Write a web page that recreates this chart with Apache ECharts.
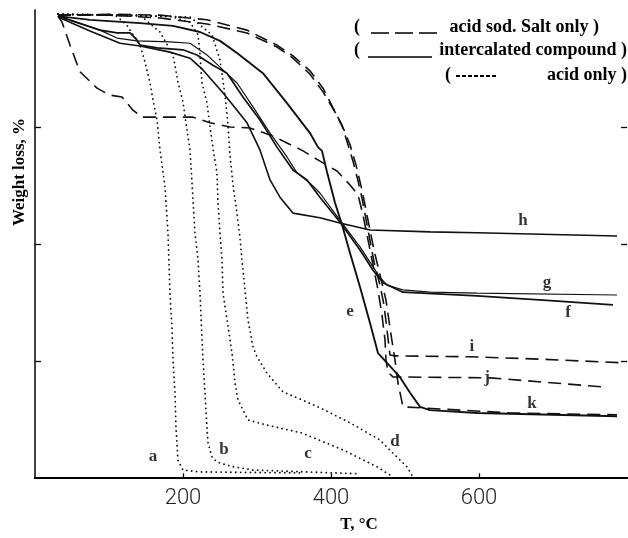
<!DOCTYPE html>
<html>
<head>
<meta charset="utf-8">
<script src="https://cdn.jsdelivr.net/npm/echarts@6/dist/echarts.min.js"></script>
<style>html,body{margin:0;padding:0;background:#fff;}#c{width:628px;height:538px;}</style>
</head>
<body>
<div id="c"></div>
<script>
// x: temperature (°C), y: weight (%)
const xTickVals = [200, 400, 600];
const yTickVals = [25, 50, 75];
// acid only (dotted) a-d
const aT = [31.1,108.1,123,141.9,148.6,155.4,159.5,164.9,168.9,175.7,179.7,182.4,185.1,186.5,189.2,190.5,193.2,200,223,358.1];
const aW = [99.1,98.9,97,92.5,88.9,84.4,80.8,76.5,70.1,62.2,52.4,39.5,32.3,25.2,18.2,10.9,3.8,1.7,1.3,1.1];
const bT = [31.1,141.9,168.9,186.5,193.2,200,205.4,209.5,212.2,216.2,220.3,223,227,229.7,232.4,233.8,239.2,245.9,267.6,294.6,439.2];
const bW = [99.1,98.9,95.3,90.4,84.6,80.3,74.4,70.1,63,52.4,46.6,39.5,25.2,18.2,10.9,7.5,4.5,3.4,2.4,1.7,0.9];
const cT = [31.1,182.4,209.5,220.3,223,225.7,232.4,236.5,240.5,245.9,247.3,250,252.7,254.1,259.5,266.2,270.3,274.3,287.8,313.5,360.8,416.2,462.2,483.8];
const cW = [99.1,98.7,97.4,94.7,90.4,84.4,80.1,75,70.5,65.2,58.8,52.4,46.6,39.5,33.8,26.7,20.3,16.7,12.4,11.3,9.6,6,2.4,0.2];
const dT = [31.1,209.5,239.2,250,256.8,260.8,263.5,267.6,273,277,279.7,283.8,287.8,294.6,300,313.5,335.1,360.8,385.1,425.7,466.2,483.8,502.7,510.8];
const dW = [99.1,98.5,94.7,89.3,81.8,75.4,69,62.6,56.6,51.3,46.6,40.2,33.8,28,25.9,22.4,18.4,16.7,15,11.8,8.1,5.3,2.4,0.2];
// intercalated compound (solid) e-h
const eT = [31.1,74.3,141.9,186.5,223,250,273,308,340.5,371.6,382.4,387.8,394.6,405.4,414.9,425.7,439.2,452.7,463.5,475.7,493,506.8,520.3,533.8,597.3,786.5];
const eW = [98.7,97.9,97.2,96.6,95.3,93.4,90.8,86.5,80.1,73.7,70.7,69.9,65.4,58.8,54.1,48.1,40.8,33.1,26.7,24.6,21.6,18.2,15.2,14.5,13.9,13.2];
const fT = [31.1,87.8,110.8,128.4,137.8,141.9,164.9,200,218.9,240.5,259.5,281,304,327,348.6,367.6,385,412,439.2,456.8,470.3,497,597.3,686.5,781];
const fW = [98.7,95.7,95.1,95.1,93.6,92.5,91.9,91.5,90.4,88.2,86.5,81.4,76.5,70.7,65.8,63.7,60,54.7,48.7,44.4,41.7,39.7,38.9,38,37];
const gT = [31.1,87.8,110.8,137.8,182.4,209.5,232.4,250,273,294.6,317.6,340.5,354,371.6,385,412,439.2,456.8,466,475.7,497,533.8,597.3,786.5];
const gW = [98.7,95.7,94,93.4,93.2,92.9,90.4,87.8,84.4,79.3,73.7,68.6,65.2,63,60.9,55.1,49.4,45.1,42.9,41.2,40.2,39.7,39.5,39.1];
const hT = [31.1,74.3,114.9,141.9,182.4,209.5,227,254,286.5,304,317.6,331,348.6,385,412,452.7,533.8,597.3,786.5];
const hW = [98.5,95.5,92.9,92.3,91,89.7,87.2,82.3,75.9,70.1,63.7,60,56.6,55.6,54.5,53,52.6,52.4,51.7];
// acid sodium salt (dashed) i-k
const iT = [31.1,101.4,168.9,232.4,286.5,327,348.6,371.6,389.2,402.7,414.9,423,429.7,436.5,441.9,450,458.1,466.2,471.6,475.7,479.7,486.5,587.8,682.4,795];
const iW = [98.9,99.1,98.9,97.9,95.7,92.5,90.2,87,83.3,79.1,75.4,71.2,67.7,63.5,59.8,53,46.2,41.2,37,31.6,26.3,26.1,25.9,25.4,24.6];
const jT = [31.1,36.5,47.3,60.8,83.8,101.4,117.6,132.4,144.6,213.5,236.5,263.5,290.5,317.6,340.5,362.2,385.1,408.1,425.7,436.5,443.2,450,456.8,463.5,468.9,473,474.3,477,483.8,614.9,773];
const jW = [98.7,97.4,92.5,86.8,83.3,81.8,81.4,78.6,77.1,77.1,75.9,75,74.8,73.3,71.6,69.9,67.7,65.6,62.6,60.5,56.2,50.9,45.5,40.2,34.8,29.5,25.2,22.6,21.6,21.4,19.4];
const kT = [31.1,101.4,168.9,232.4,286.5,327,348.6,371.6,389.2,405.4,417.6,425.7,433.8,441.9,450,458.1,466.2,474.3,481.1,486.5,490.5,497.3,520.3,641.9,786.5];
const kW = [98.9,98.9,98.3,97,95.1,92.1,89.7,86.3,82.5,78.2,74.4,71.2,66.9,61.5,55.1,48.7,43.4,38,30.6,25.2,20.3,15.2,15,13.9,13.5];
// curve letters
const labelNames = ['a','b','c','d','e','f','g','h','i','j','k'];
const labelT = [159.5,255.4,368.9,486.5,425.7,720.3,691.9,659.5,590.5,610.8,671.6];
const labelW = [4.5,6.0,5.3,7.7,35.5,35.3,41.7,55.1,28,21.4,16];

const SERIF = '"Liberation Serif", "Times New Roman", serif';
const dotted = {color:'#111', width:1.8, type:[0.1,4.8], cap:'round'};
const dashed = {color:'#111', width:1.6, type:[13,7]};
function solid(w){ return {color:'#111', width:w, type:'solid'}; }
function mk(T, W, style){
  return {type:'line', data:T.map((t,i)=>[t,W[i]]), symbol:'none', showSymbol:false,
    smooth:false, lineStyle:style, silent:true, animation:false};
}
// inward tick marks built from the tick values
const X_MIN = 0, X_MAX = 800, Y_MIN = 0, Y_MAX = 100;
const tickLines = [];
yTickVals.forEach(v => {
  tickLines.push([{coord:[X_MIN, v]}, {coord:[X_MIN + 8, v]}]);
  tickLines.push([{coord:[X_MAX - 8, v]}, {coord:[X_MAX, v]}]);
});
xTickVals.forEach(v => {
  tickLines.push([{coord:[v, Y_MIN]}, {coord:[v, Y_MIN + 1]}]);
});

const chart = echarts.init(document.getElementById('c'), null, {renderer:'canvas'});
const axisCommon = {type:'value', splitLine:{show:false}, axisTick:{show:false}};
chart.setOption({
  animation:false,
  backgroundColor:'#fff',
  grid:{left:35, right:1, top:10, bottom:60, containLabel:false},
  xAxis:[
    Object.assign({}, axisCommon, {min:X_MIN, max:X_MAX, interval:200, position:'bottom',
      axisLine:{show:true, lineStyle:{color:'#000', width:2}},
      axisLabel:{showMinLabel:false, showMaxLabel:false, fontSize:22, fontFamily:'Roboto', fontWeight:300, color:'#222', margin:9}}),
    Object.assign({}, axisCommon, {min:X_MIN, max:X_MAX, interval:200, position:'top',
      axisLine:{show:true, lineStyle:{color:'#000', width:2}}, axisLabel:{show:false}})
  ],
  yAxis:[
    Object.assign({}, axisCommon, {min:Y_MIN, max:Y_MAX, interval:25, position:'left',
      axisLine:{show:true, lineStyle:{color:'#000', width:1.5}}, axisLabel:{show:false}}),
    Object.assign({}, axisCommon, {min:Y_MIN, max:Y_MAX, interval:25, position:'right',
      axisLine:{show:true, lineStyle:{color:'#444', width:1}}, axisLabel:{show:false}})
  ],
  series:[
    mk(aT, aW, dotted), mk(bT, bW, dotted), mk(cT, cW, dotted), mk(dT, dW, dotted),
    mk(eT, eW, solid(1.9)), mk(fT, fW, solid(1.7)), mk(gT, gW, solid(1.2)), mk(hT, hW, solid(1.6)),
    mk(iT, iW, dashed), mk(jT, jW, dashed), mk(kT, kW, dashed),
    {type:'scatter', symbolSize:0, silent:true, animation:false,
      data: labelNames.map((n,i)=>({value:[labelT[i], labelW[i]], name:n})),
      label:{show:true, position:'inside', formatter:p=>p.name, fontFamily:SERIF, fontWeight:'bold', fontSize:17, color:'#000'},
      markLine:{silent:true, symbol:['none','none'], label:{show:false}, animation:false,
        lineStyle:{color:'#000', width:1.3, type:'solid'}, emphasis:{disabled:true},
        data: tickLines}}
  ],
  graphic:[
    {type:'text', x:20, y:172, rotation:Math.PI/2, style:{text:'Weight loss, %', font:'bold 17px '+SERIF, textAlign:'center', textVerticalAlign:'middle', fill:'#000'}},
    {type:'text', x:359, y:525, style:{text:'T, °C', font:'bold 17px '+SERIF, textAlign:'center', textVerticalAlign:'middle', fill:'#000'}},
    // legend
    {type:'text', x:357, y:27, style:{text:'(', font:'bold 18px '+SERIF, textAlign:'center', textVerticalAlign:'middle', fill:'#000'}},
    {type:'line', shape:{x1:371, y1:33, x2:389, y2:33}, style:{stroke:'#000', lineWidth:1.5}},
    {type:'line', shape:{x1:395, y1:33, x2:413, y2:33}, style:{stroke:'#000', lineWidth:1.5}},
    {type:'line', shape:{x1:419, y1:33, x2:437, y2:33}, style:{stroke:'#000', lineWidth:1.5}},
    {type:'text', x:599, y:27, style:{text:'acid sod. Salt only )', font:'bold 18px '+SERIF, textAlign:'right', textVerticalAlign:'middle', fill:'#000'}},
    {type:'text', x:357, y:50, style:{text:'(', font:'bold 18px '+SERIF, textAlign:'center', textVerticalAlign:'middle', fill:'#000'}},
    {type:'line', shape:{x1:368, y1:57, x2:432, y2:57}, style:{stroke:'#000', lineWidth:1.5}},
    {type:'text', x:627, y:50, style:{text:'intercalated compound )', font:'bold 18px '+SERIF, textAlign:'right', textVerticalAlign:'middle', fill:'#000'}},
    {type:'text', x:448, y:75, style:{text:'(', font:'bold 18px '+SERIF, textAlign:'center', textVerticalAlign:'middle', fill:'#000'}},
    {type:'line', shape:{x1:456, y1:76, x2:498, y2:76}, style:{stroke:'#000', lineWidth:2, lineDash:[4,2]}},
    {type:'text', x:627, y:75, style:{text:'acid only )', font:'bold 18px '+SERIF, textAlign:'right', textVerticalAlign:'middle', fill:'#000'}}
  ]
});
</script>
</body>
</html>
